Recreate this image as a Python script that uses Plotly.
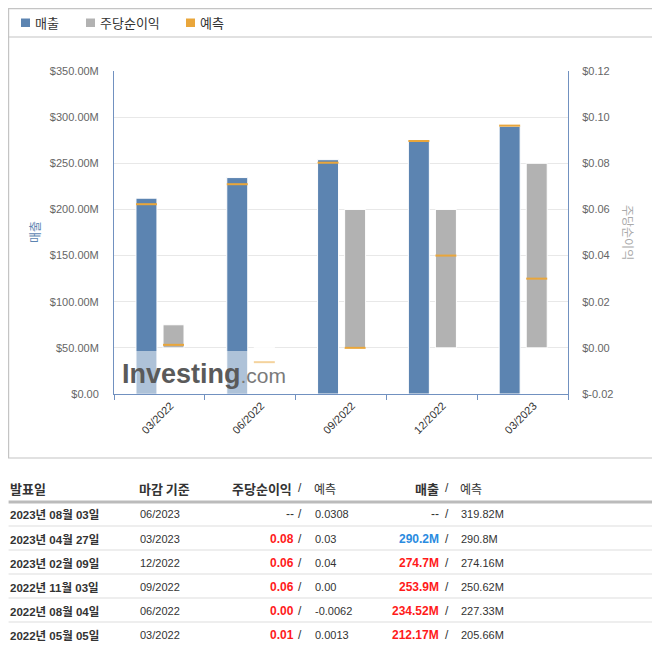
import plotly.graph_objects as go

# the page body has an 8px margin: the figure starts at page pixel (8, 8)
OFF = 8
W, H = 652, 650

# ---------------- data ----------------
categories = ["03/2022", "06/2022", "09/2022", "12/2022", "03/2023"]
revenue_actual = [212.17e6, 234.52e6, 253.9e6, 274.7e6, 290.2e6]
revenue_forecast = [205.66e6, 227.33e6, 250.62e6, 274.16e6, 290.8e6]
eps_actual = [0.01, 0.00, 0.06, 0.06, 0.08]
eps_forecast = [0.0013, -0.0062, 0.00, 0.04, 0.03]

rev_tickvals = [0, 50e6, 100e6, 150e6, 200e6, 250e6, 300e6, 350e6]
rev_ticktext = ["$0.00", "$50.00M", "$100.00M", "$150.00M", "$200.00M",
                "$250.00M", "$300.00M", "$350.00M"]
eps_tickvals = [-0.02, 0.0, 0.02, 0.04, 0.06, 0.08, 0.10, 0.12]
eps_ticktext = ["$-0.02", "$0.00", "$0.02", "$0.04", "$0.06", "$0.08",
                "$0.10", "$0.12"]

table_dates = ["2023년 08월 03일", "2023년 04월 27일", "2023년 02월 09일",
               "2022년 11월 03일", "2022년 08월 04일", "2022년 05월 05일"]
table_periods = ["06/2023", "03/2023", "12/2022", "09/2022", "06/2022", "03/2022"]
table_eps_actual = ["--", "0.08", "0.06", "0.06", "0.00", "0.01"]
table_eps_forecast = ["0.0308", "0.03", "0.04", "0.00", "-0.0062", "0.0013"]
table_rev_actual = ["--", "290.2M", "274.7M", "253.9M", "234.52M", "212.17M"]
table_rev_forecast = ["319.82M", "290.8M", "274.16M", "250.62M", "227.33M", "205.66M"]

# ---------------- styles ----------------
BLUE = "#5C84B1"
GREY = "#B2B2B2"
ORANGE = "#E9A63B"
AXIS = "#7191C0"
GRID = "#E8E8E8"
KFONT = "Noto Sans CJK KR"
TFONT = "Liberation Sans, Arial, Noto Sans CJK KR"


def X(px):
    return (px - OFF) / W


def Y(py):
    return 1 - (py - OFF) / H


BAR_W = 0.231
REV_OFF = -0.258
EPS_OFF = 0.04
REV_MARK = 2.2e6
EPS_MARK = 0.00087

fig = go.Figure()
fig.add_trace(go.Bar(x=categories, y=revenue_actual, width=BAR_W, offset=REV_OFF,
                     marker=dict(color=BLUE, line=dict(color="white", width=1)),
                     yaxis="y", name="매출"))
fig.add_trace(go.Bar(x=categories, y=[REV_MARK] * len(categories),
                     base=[v - REV_MARK / 2 for v in revenue_forecast],
                     width=BAR_W, offset=REV_OFF,
                     marker=dict(color=ORANGE, line=dict(width=0)),
                     yaxis="y", name="예측"))
fig.add_trace(go.Bar(x=categories, y=eps_actual, width=BAR_W, offset=EPS_OFF,
                     marker=dict(color=GREY, line=dict(color="white", width=1)),
                     yaxis="y2", name="주당순이익"))
fig.add_trace(go.Bar(x=categories, y=[EPS_MARK] * len(categories),
                     base=[v - EPS_MARK / 2 for v in eps_forecast],
                     width=BAR_W, offset=EPS_OFF,
                     marker=dict(color=ORANGE, line=dict(width=0)),
                     yaxis="y2", name="예측"))

shapes = []
annotations = []

# frame
shapes.append(dict(type="rect", xref="paper", yref="paper", x0=X(8.6), x1=X(657),
                   y0=Y(458), y1=Y(8.6), line=dict(color="#C4C4C4", width=1.2)))
shapes.append(dict(type="line", xref="paper", yref="paper", x0=X(8.6), x1=X(657),
                   y0=Y(37), y1=Y(37), line=dict(color="#C4C4C4", width=1.2)))

# legend
legend_items = [("매출", BLUE, 21), ("주당순이익", GREY, 86), ("예측", ORANGE, 186)]
for label, col, lx in legend_items:
    shapes.append(dict(type="rect", xref="paper", yref="paper", x0=X(lx), x1=X(lx + 9),
                       y0=Y(27), y1=Y(18.5), fillcolor=col, line=dict(width=0)))
    annotations.append(dict(text=label, xref="paper", yref="paper", x=X(lx + 12), y=Y(22.5),
                            xanchor="left", yanchor="middle", showarrow=False,
                            font=dict(family=KFONT, size=13, color="#333")))

# axis titles
annotations.append(dict(text="매출", xref="paper", yref="paper", x=X(35), y=Y(232),
                        textangle=-90, showarrow=False, xanchor="center", yanchor="middle",
                        font=dict(family=KFONT, size=12, color=BLUE)))
annotations.append(dict(text="주당순이익", xref="paper", yref="paper", x=X(628), y=Y(232),
                        textangle=90, showarrow=False, xanchor="center", yanchor="middle",
                        font=dict(family=KFONT, size=12, color="#AAAAAA")))

# watermark
shapes.append(dict(type="rect", xref="paper", yref="paper", x0=X(114.5), x1=X(285),
                   y0=Y(393.5), y1=Y(351), fillcolor="rgba(255,255,255,0.5)",
                   line=dict(width=0), layer="above"))
annotations.append(dict(
    text="<b>Investing</b><span style='font-size:21px;color:#7a7a7a'>.com</span>",
    xref="paper", yref="paper", x=X(120), y=Y(374), xanchor="left", yanchor="middle",
    showarrow=False, font=dict(family="Liberation Sans, Arial", size=27, color="#5a5a5a")))

# ---------------- table ----------------
HEADER_Y = 488
ROW_Y = [514, 539, 563, 587, 611, 635]
SEP_Y = [526, 550, 574, 598, 622]
DARK = "#333333"
RED = "#FF1A1A"
BLUE_T = "#2A8BE0"


def txt(s, px, py, anchor, size=12, color=DARK, bold=False, family=TFONT):
    annotations.append(dict(text=("<b>%s</b>" % s) if bold else s, xref="paper", yref="paper",
                            x=X(px), y=Y(py), xanchor=anchor, yanchor="middle",
                            showarrow=False,
                            font=dict(family=family, size=size, color=color)))


txt("발표일", 8, HEADER_Y, "left", 13, DARK, True, KFONT)
txt("마감 기준", 137, HEADER_Y, "left", 13, DARK, True, KFONT)
txt("주당순이익", 294, HEADER_Y, "right", 13, DARK, True, KFONT)
txt("/", 300, HEADER_Y, "center", 12)
txt("예측", 312, HEADER_Y, "left", 12, DARK, False, KFONT)
txt("매출", 441, HEADER_Y, "right", 13, DARK, True, KFONT)
txt("/", 447, HEADER_Y, "center", 12)
txt("예측", 458, HEADER_Y, "left", 12, DARK, False, KFONT)

shapes.append(dict(type="line", xref="paper", yref="paper", x0=X(8.6), x1=X(657),
                   y0=Y(502), y1=Y(502), line=dict(color="#BBBBBB", width=3)))
for sy in SEP_Y:
    shapes.append(dict(type="line", xref="paper", yref="paper", x0=X(8.6), x1=X(657),
                       y0=Y(sy), y1=Y(sy), line=dict(color="#DDDDDD", width=1)))


def result_color(actual, forecast):
    if actual == "--":
        return DARK
    a = float(actual.rstrip("M"))
    f = float(forecast.rstrip("M"))
    return RED if a >= f else BLUE_T


for i, ry in enumerate(ROW_Y):
    txt(table_dates[i], 8, ry, "left", 11.5, DARK, True)
    txt(table_periods[i], 138, ry, "left", 11)
    ea, ef = table_eps_actual[i], table_eps_forecast[i]
    txt(ea, 296, ry, "right", 12, result_color(ea, ef), ea != "--")
    txt("/", 300, ry, "center", 12)
    txt(ef, 313, ry, "left", 11)
    ra, rf = table_rev_actual[i], table_rev_forecast[i]
    txt(ra, 441, ry, "right", 12, result_color(ra, rf), ra != "--")
    txt("/", 447, ry, "center", 12)
    txt(rf, 459, ry, "left", 11)

fig.update_layout(
    width=W, height=H,
    margin=dict(l=0, r=0, t=0, b=0),
    paper_bgcolor="white", plot_bgcolor="white",
    barmode="overlay", showlegend=False,
    xaxis=dict(type="category", domain=[X(114), X(568)], anchor="y",
               showline=True, linecolor=AXIS, linewidth=1,
               ticks="outside", tickson="boundaries", ticklen=5, tickcolor=AXIS,
               tickangle=-45, ticklabelshift=11,
               tickfont=dict(family="Liberation Sans, Arial", size=11, color="#333"),
               showgrid=False, automargin=False, fixedrange=True),
    yaxis=dict(domain=[Y(394), Y(71)], range=[0, 350e6], tickvals=rev_tickvals,
               ticktext=rev_ticktext, showline=True, linecolor=AXIS, linewidth=1,
               showgrid=True, gridcolor=GRID, gridwidth=1, zeroline=False,
               ticks="", ticklabelstandoff=12,
               tickfont=dict(family="Liberation Sans, Arial", size=11, color="#666"),
               automargin=False, fixedrange=True),
    yaxis2=dict(overlaying="y", side="right", anchor="x", range=[-0.02, 0.12],
                tickvals=eps_tickvals, ticktext=eps_ticktext, showline=True,
                linecolor=AXIS, linewidth=1, showgrid=False, zeroline=False,
                ticks="", ticklabelstandoff=11,
                tickfont=dict(family="Liberation Sans, Arial", size=11, color="#666"),
                automargin=False, fixedrange=True),
    shapes=shapes,
    annotations=annotations,
)

fig.write_html("out.html")
